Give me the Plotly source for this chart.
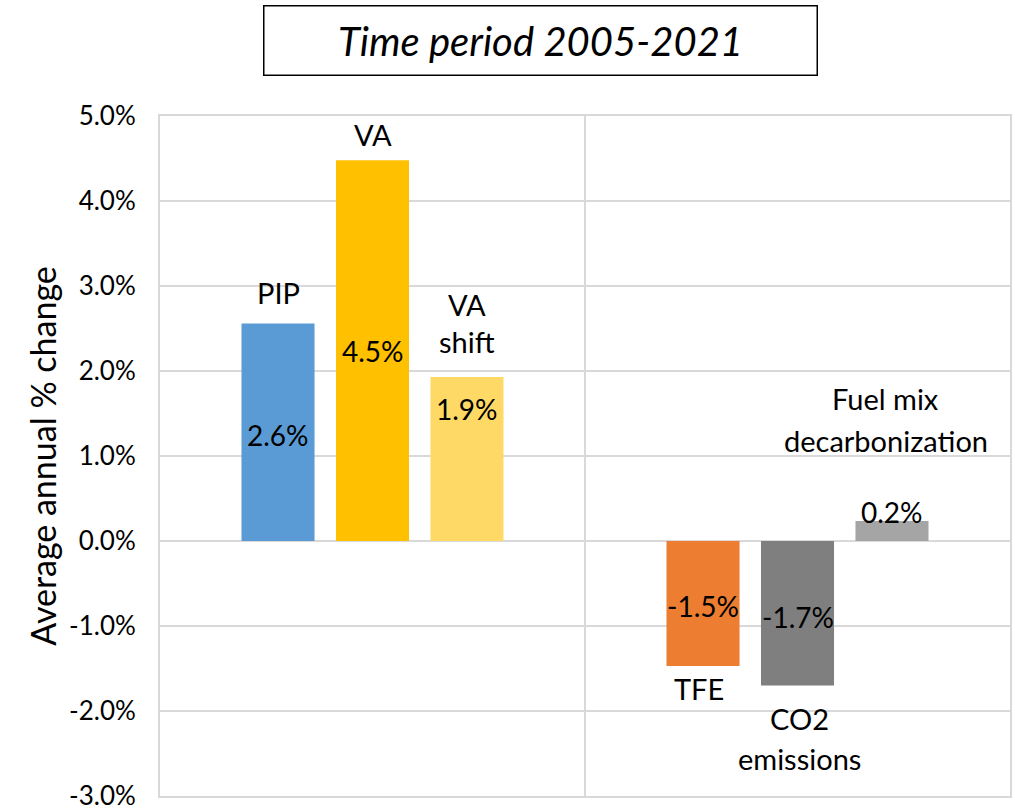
import plotly.graph_objects as go

# ---- data ----
categories = ["Drivers", "Outcomes"]
series_names = ["PIP", "VA", "VA<br>shift", "TFE", "CO2<br>emissions", "Fuel mix<br>decarbonization"]
values = [0.0256, 0.0448, 0.0193, -0.0147, -0.0170, 0.00235]
colors = ["#5B9BD5", "#FFC000", "#FFD966", "#ED7D31", "#7F7F7F", "#A5A5A5"]
y_ticks = [-0.03, -0.02, -0.01, 0.0, 0.01, 0.02, 0.03, 0.04, 0.05]
y_ticktext = [f"{t*100:.1f}%" for t in y_ticks]

# label placements (y in data units, x offset in category units)
value_label_y = [0.0125, 0.0223, 0.0155, -0.0076, -0.0089, 0.0034]
name_label_y = [0.0292, 0.0478, 0.0256, -0.0173, -0.0232, 0.0143]
name_label_dx = [0.0, 0.0, 0.0, -0.01, 0.005, -0.015]
name_line_gap = [None, None, 37, None, 40, 42]

BARGAP = 0.333
slot = (1 - BARGAP) / 3

fig = go.Figure()
for s in range(3):
    fig.add_trace(go.Bar(
        x=categories,
        y=[values[s], values[s + 3]],
        marker=dict(color=[colors[s], colors[s + 3]], line=dict(width=0)),
        name=series_names[s].replace("<br>", " "),
        showlegend=False,
    ))

annotations = []
font = "Lato, 'Open Sans', sans-serif"
for i, v in enumerate(values):
    cat = i // 3
    s = i % 3
    xc = cat + (s - 1) * slot
    annotations.append(dict(x=xc, y=value_label_y[i], xref="x", yref="y",
                            text=f"{v*100:.1f}%", showarrow=False,
                            xanchor="center", yanchor="middle",
                            font=dict(family=font, size=28, color="black")))
    lines = series_names[i].split("<br>")
    gap = name_line_gap[i] or 0
    for k, line in enumerate(lines):
        shift = (k - (len(lines) - 1) / 2) * gap
        annotations.append(dict(x=xc + name_label_dx[i], y=name_label_y[i], xref="x", yref="y",
                                text=line, showarrow=False, yshift=-shift,
                                xanchor="center", yanchor="middle",
                                font=dict(family=font, size=29, color="black")))

annotations.append(dict(x=(540 - 160) / 850, y=1.0 + (116 - 40.5) / 680, xref="paper", yref="paper",
                        xanchor="center", yanchor="middle",
                        text="<i>Time period 2005-2021</i>", showarrow=False,
                        font=dict(family=font, size=40, color="black"),
                        bordercolor="black", borderwidth=1.5, width=550, height=66,
                        bgcolor="white"))

fig.update_layout(
    barmode="group",
    bargap=BARGAP,
    bargroupgap=0.227,
    width=1015, height=809,
    margin=dict(l=160, r=5, t=116, b=13, autoexpand=False),
    paper_bgcolor="white", plot_bgcolor="white",
    annotations=annotations,
    shapes=[dict(type="line", xref="x", yref="paper", x0=0.5, x1=0.5, y0=0, y1=1,
                 line=dict(color="#D9D9D9", width=2), layer="below")],
)
fig.update_xaxes(range=[-0.5, 1.5], showticklabels=False, showgrid=False, automargin=False,
                 showline=True, linecolor="#D9D9D9", linewidth=2, mirror=True, zeroline=False)
fig.update_yaxes(range=[-0.03, 0.05], tickvals=y_ticks, ticktext=y_ticktext, automargin=False,
                 ticklabeloverflow="allow",
                 showgrid=True, gridcolor="#D9D9D9", gridwidth=2,
                 showline=True, linecolor="#D9D9D9", linewidth=2, mirror=True,
                 zeroline=True, zerolinecolor="#D9D9D9", zerolinewidth=2,
                 ticks="outside", ticklen=17, tickcolor="rgba(0,0,0,0)",
                 tickfont=dict(family=font, size=26, color="black"),
                 title=dict(text="Average annual % change", standoff=2,
                            font=dict(family=font, size=34, color="black")))

fig.write_html("out.html", config={"displayModeBar": False},
               post_script="document.body.style.margin='0';")
